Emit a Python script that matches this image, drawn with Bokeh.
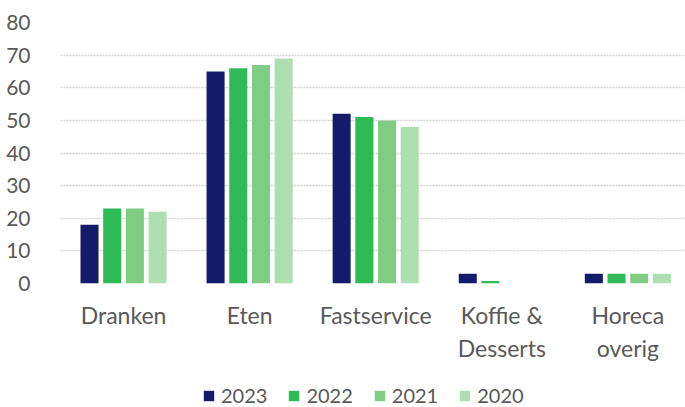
from bokeh.plotting import figure
from bokeh.layouts import column
from bokeh.models import Range1d, FixedTicker, Legend, LegendItem, ColumnDataSource
from bokeh.embed import file_html
from bokeh.resources import INLINE

categories = ["Dranken", "Eten", "Fastservice", "Koffie &\nDesserts", "Horeca\noverig"]
years = ["2023", "2022", "2021", "2020"]
v2023 = [18, 65, 52, 3, 3]
v2022 = [23, 66, 51, 0.8, 3]
v2021 = [23, 67, 50, 0, 3]
v2020 = [22, 69, 48, 0, 3]
series = [v2023, v2022, v2021, v2020]
colors = ["#141b6b", "#2ebb56", "#7fcd83", "#aedfb0"]
y_ticks = [0, 10, 20, 30, 40, 50, 60, 70, 80]

FONT = "Lato"
TXT = "#595959"

p = figure(width=685, height=365, output_backend="svg", toolbar_location=None,
           x_range=Range1d(0, 4.957), y_range=Range1d(0, 80),
           min_border_left=60, min_border_right=0, min_border_top=22, min_border_bottom=82)
p.outline_line_color = None
p.background_fill_color = "white"

offsets = [-0.27, -0.09, 0.09, 0.27]
renderers = []
for vals, off, col in zip(series, offsets, colors):
    src = ColumnDataSource(dict(x=[i + 0.5 + off for i in range(len(categories))], top=vals))
    r = p.vbar(x="x", top="top", width=0.143, bottom=0, source=src,
               fill_color=col, line_color=None)
    renderers.append(r)

# axes
p.xaxis.ticker = FixedTicker(ticks=[i + 0.5 for i in range(len(categories))])
p.xaxis.major_label_overrides = {i + 0.5: c for i, c in enumerate(categories)}
p.xaxis.axis_line_color = None
p.xaxis.major_tick_line_color = None
p.xaxis.minor_tick_line_color = None
p.xaxis.major_label_standoff = 11
p.xaxis.major_label_text_font = FONT
p.xaxis.major_label_text_font_size = "23px"
p.xaxis.major_label_text_color = TXT

p.yaxis.ticker = FixedTicker(ticks=y_ticks)
p.yaxis.axis_line_color = None
p.yaxis.major_tick_line_color = None
p.yaxis.minor_tick_line_color = None
p.yaxis.major_label_standoff = 24
p.yaxis.major_label_text_font = FONT
p.yaxis.major_label_text_font_size = "21px"
p.yaxis.major_label_text_color = TXT

p.xgrid.grid_line_color = None
p.ygrid.grid_line_color = "#d4d4d4"
p.ygrid.grid_line_width = 1.5
p.ygrid.grid_line_dash = "2 1"

# legend strip below the chart (its frame is aligned with the chart's frame)
lf = figure(width=685, height=42, output_backend="svg", toolbar_location=None,
            x_range=Range1d(0, 1), y_range=Range1d(0, 1),
            x_axis_type=None, y_axis_type=None,
            min_border_left=60, min_border_right=0, min_border_top=0, min_border_bottom=0)
lf.outline_line_color = None
lf.xgrid.grid_line_color = None
lf.ygrid.grid_line_color = None
leg_renderers = []
for col in colors:
    # placeholder glyph outside the visible range, used only for the legend swatch
    leg_renderers.append(lf.vbar(x=[5], top=[1], width=0.1, fill_color=col, line_color=None))

legend = Legend(items=[LegendItem(label=y, renderers=[r]) for y, r in zip(years, leg_renderers)],
                orientation="horizontal", location=(142, 0),
                glyph_width=13, glyph_height=13, label_standoff=6, spacing=20,
                padding=0, margin=0, border_line_color=None, background_fill_alpha=0,
                label_text_font=FONT, label_text_font_size="20px", label_text_color=TXT)
lf.add_layout(legend, "center")

layout = column(p, lf, spacing=0)
open("out.html", "w").write(file_html(layout, INLINE))
